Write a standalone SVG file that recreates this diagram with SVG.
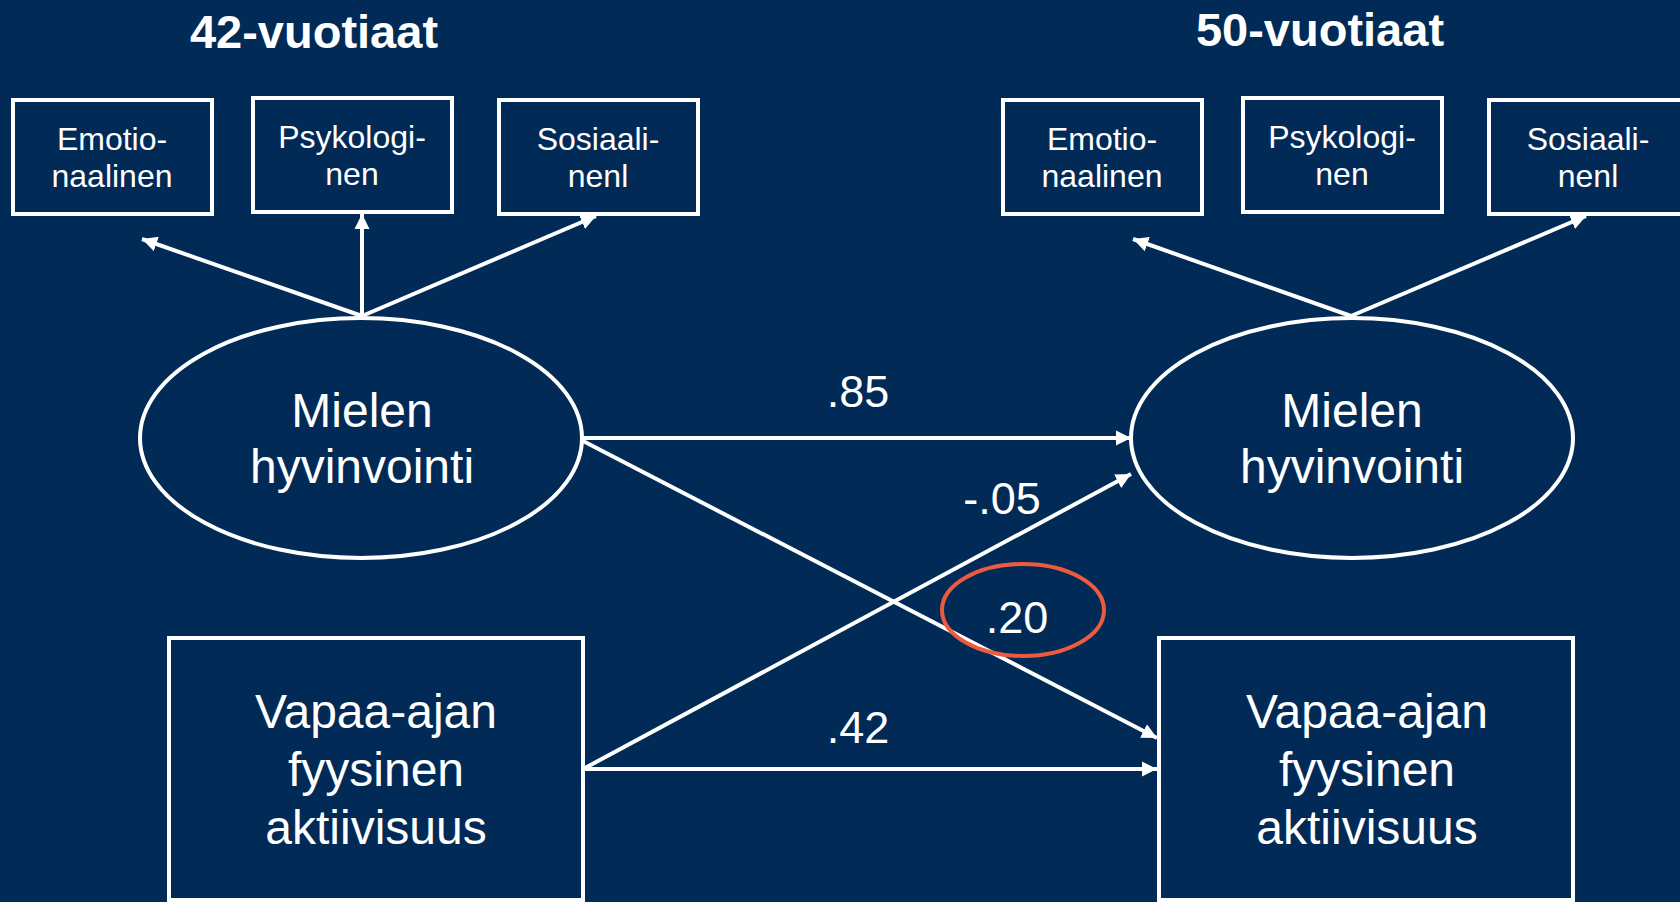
<svg xmlns="http://www.w3.org/2000/svg" width="1680" height="902" viewBox="0 0 1680 902">
<defs>
<marker id="ah" viewBox="0 0 10 10" refX="10" refY="5" markerWidth="3.8" markerHeight="3.8" orient="auto" markerUnits="strokeWidth">
<path d="M0,0 L10,5 L0,10 z" fill="#fff"/>
</marker>
<style>
.t{font-family:"Liberation Sans",Arial,sans-serif;fill:#fff;text-anchor:middle}
.title{font-size:47px;font-weight:bold}
.sm{font-size:32px}
.lg{font-size:48px}
.lbl{font-size:45px}
.box{fill:none;stroke:#fff;stroke-width:4}
.ln{stroke:#fff;stroke-width:4;fill:none;marker-end:url(#ah)}
</style>
</defs>
<rect x="0" y="0" width="1680" height="902" fill="#012A57"/>
<text class="t title" x="314" y="48">42-vuotiaat</text>
<text class="t title" x="1320" y="46">50-vuotiaat</text>

<g id="L_emo"><rect class="box" x="13" y="100" width="199" height="114"/><text class="t sm" x="112" y="150">Emotio-</text><text class="t sm" x="112" y="187">naalinen</text></g>
<g id="L_psy"><rect class="box" x="253" y="98" width="199" height="114"/><text class="t sm" x="352" y="148">Psykologi-</text><text class="t sm" x="352" y="185">nen</text></g>
<g id="L_sos"><rect class="box" x="499" y="100" width="199" height="114"/><text class="t sm" x="598" y="150">Sosiaali-</text><text class="t sm" x="598" y="187">nenl</text></g>

<g id="R_emo"><rect class="box" x="1003" y="100" width="199" height="114"/><text class="t sm" x="1102" y="150">Emotio-</text><text class="t sm" x="1102" y="187">naalinen</text></g>
<g id="R_psy"><rect class="box" x="1243" y="98" width="199" height="114"/><text class="t sm" x="1342" y="148">Psykologi-</text><text class="t sm" x="1342" y="185">nen</text></g>
<g id="R_sos"><rect class="box" x="1489" y="100" width="199" height="114"/><text class="t sm" x="1588" y="150">Sosiaali-</text><text class="t sm" x="1588" y="187">nenl</text></g>

<g id="L_mh"><ellipse class="box" cx="361" cy="438" rx="221" ry="120"/><text class="t lg" x="362" y="427">Mielen</text><text class="t lg" x="362" y="483">hyvinvointi</text></g>
<g id="R_mh"><ellipse class="box" cx="1352" cy="438" rx="221" ry="120"/><text class="t lg" x="1352" y="427">Mielen</text><text class="t lg" x="1352" y="483">hyvinvointi</text></g>

<g id="L_va"><rect class="box" x="169" y="638" width="414" height="262"/><text class="t lg" x="376" y="728">Vapaa-ajan</text><text class="t lg" x="376" y="786">fyysinen</text><text class="t lg" x="376" y="844">aktiivisuus</text></g>
<g id="R_va"><rect class="box" x="1159" y="638" width="414" height="262"/><text class="t lg" x="1367" y="728">Vapaa-ajan</text><text class="t lg" x="1367" y="786">fyysinen</text><text class="t lg" x="1367" y="844">aktiivisuus</text></g>

<g id="connectors">
<line class="ln" x1="362" y1="316" x2="142" y2="239"/>
<line class="ln" x1="362" y1="316" x2="362" y2="214"/>
<line class="ln" x1="362" y1="316" x2="596" y2="216"/>
<line class="ln" x1="1351" y1="316" x2="1133" y2="239"/>
<line class="ln" x1="1351" y1="316" x2="1586" y2="216"/>
<line class="ln" x1="583" y1="438" x2="1131" y2="438"/>
<line class="ln" x1="583" y1="441" x2="1157" y2="738"/>
<line class="ln" x1="585" y1="768" x2="1131" y2="474"/>
<line class="ln" x1="585" y1="769" x2="1157" y2="769"/>
</g>

<g id="labels">
<text class="t lbl" x="858" y="407">.85</text>
<text class="t lbl" x="1002" y="514">-.05</text>
<text class="t lbl" x="1017" y="633">.20</text>
<text class="t lbl" x="858" y="743">.42</text>
</g>
<g id="highlight"><ellipse cx="1023" cy="610" rx="81" ry="46" fill="none" stroke="#EE5A3F" stroke-width="4"/></g>
</svg>
